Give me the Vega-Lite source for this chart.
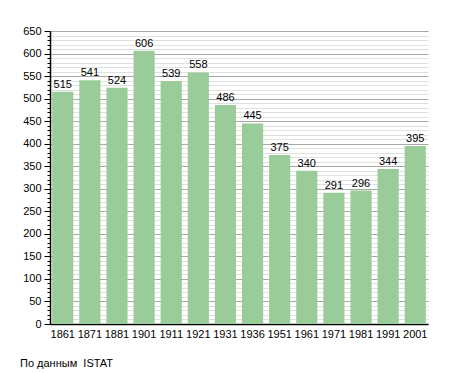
{
  "$schema": "https://vega.github.io/schema/vega-lite/v6.json",
  "width": 378,
  "height": 293,
  "autosize": "none",
  "padding": {"left": 50, "top": 31, "right": 27, "bottom": 49},
  "background": "white",
  "title": {
    "text": "По данным\u00a0 ISTAT",
    "orient": "bottom",
    "anchor": "start",
    "frame": "group",
    "dx": -30,
    "offset": 19,
    "font": "Liberation Sans",
    "fontSize": 11,
    "fontWeight": "normal",
    "color": "#000"
  },
  "config": {
    "view": {"stroke": null},
    "axis": {"labelFont": "Liberation Sans", "labelFontSize": 11, "labelColor": "#000", "domainColor": "#000", "tickColor": "#000"}
  },
  "data": {"values": [
    {"year": "1861", "pop": 515},
    {"year": "1871", "pop": 541},
    {"year": "1881", "pop": 524},
    {"year": "1901", "pop": 606},
    {"year": "1911", "pop": 539},
    {"year": "1921", "pop": 558},
    {"year": "1931", "pop": 486},
    {"year": "1936", "pop": 445},
    {"year": "1951", "pop": 375},
    {"year": "1961", "pop": 340},
    {"year": "1971", "pop": 291},
    {"year": "1981", "pop": 296},
    {"year": "1991", "pop": 344},
    {"year": "2001", "pop": 395}
  ]},
  "encoding": {
    "x": {"field": "year", "type": "ordinal", "sort": null,
      "scale": {"paddingInner": 0.22, "paddingOuter": 0.08},
      "axis": {"title": null, "labelAngle": 0, "ticks": false, "labelPadding": 4, "domainWidth": 1.5, "grid": false}},
    "y": {"field": "pop", "type": "quantitative",
      "scale": {"domain": [0, 650], "nice": false},
      "axis": {"title": null,
        "values": [0,10,20,30,40,50,60,70,80,90,100,110,120,130,140,150,160,170,180,190,200,210,220,230,240,250,260,270,280,290,300,310,320,330,340,350,360,370,380,390,400,410,420,430,440,450,460,470,480,490,500,510,520,530,540,550,560,570,580,590,600,610,620,630,640,650],
        "labelExpr": "datum.value % 50 === 0 ? datum.label : ''",
        "grid": true,
        "gridColor": {"condition": {"test": "datum.value % 50 === 0", "value": "#a8a8a8"}, "value": "#e0e0e0"},
        "gridWidth": 1,
        "tickSize": {"condition": {"test": "datum.value % 50 === 0", "value": 6}, "value": 3},
        "labelPadding": 3,
        "labelOverlap": false,
        "domainWidth": 1.5}}
  },
  "layer": [
    {"mark": {"type": "bar", "color": "#99cc99"}},
    {"mark": {"type": "text", "dy": -7, "font": "Liberation Sans", "fontSize": 11, "color": "#000"},
      "encoding": {"text": {"field": "pop", "type": "quantitative"}}}
  ]
}
